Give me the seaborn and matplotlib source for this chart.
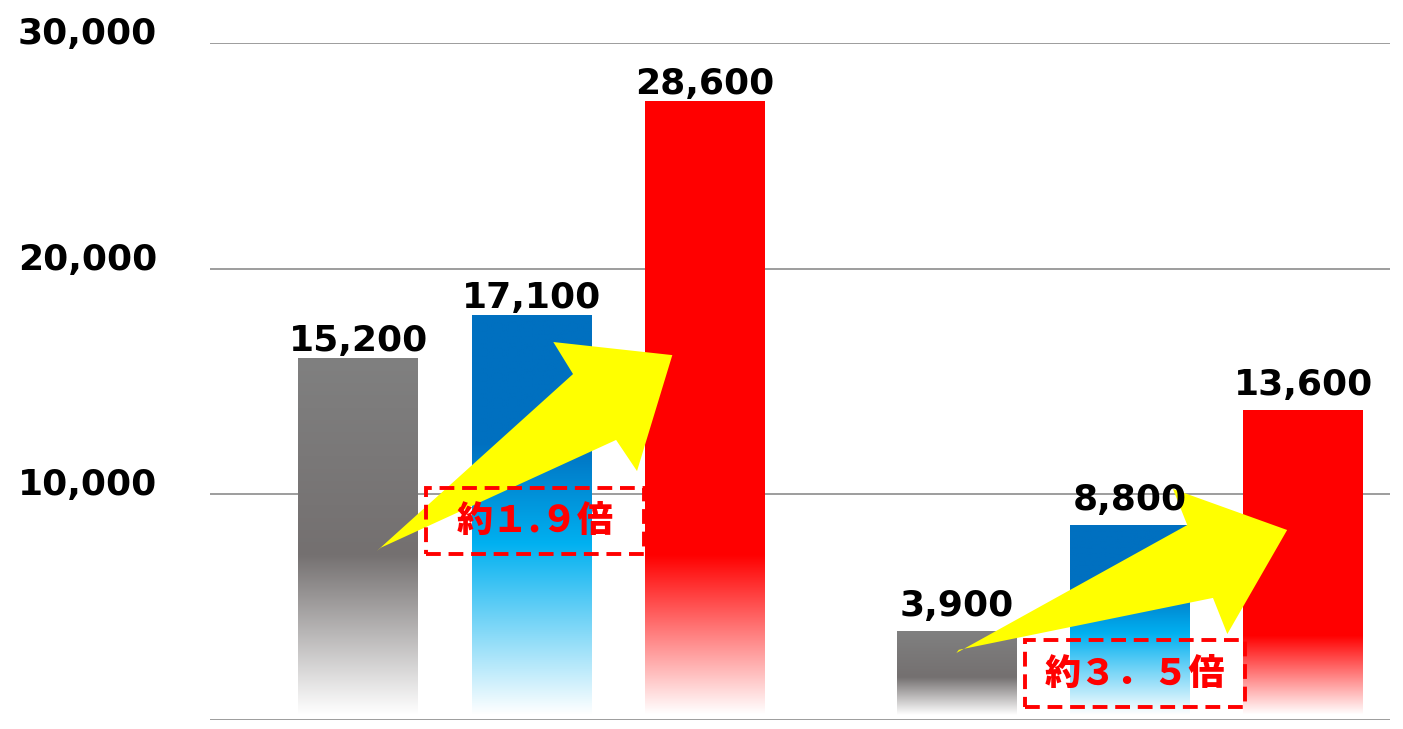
import numpy as np
import pandas as pd
import matplotlib
matplotlib.use("Agg")
import matplotlib.pyplot as plt
import matplotlib.transforms as mtransforms
from matplotlib.colors import LinearSegmentedColormap
from matplotlib.patches import Polygon, Rectangle
import seaborn as sns

# ---------------- data ----------------
categories = ["グループ1", "グループ2"]
series = ["系列1", "系列2", "系列3"]
gray_values = [16000, 3900]
blue_values = [17900, 8600]
red_values = [27400, 13700]
gray_labels = ["15,200", "3,900"]
blue_labels = ["17,100", "8,800"]
red_labels = ["28,600", "13,600"]
ytick_values = [0, 10000, 20000, 30000]
ytick_labels = ["", "10,000", "20,000", "30,000"]
ratio_texts = ["約１.９倍", "約３．５倍"]

# ---------------- styling ----------------
sns.set_theme(style="white")
plt.rcParams["font.family"] = ["DejaVu Sans", "Noto Sans CJK JP"]

W, H, DPI = 1403, 729, 100
fig = plt.figure(figsize=(W / DPI, H / DPI), dpi=DPI)
ax = fig.add_axes([210 / W, 9 / H, 1180 / W, 677 / H])

df = pd.DataFrame({
    "category": categories * 3,
    "series": [series[0]] * 2 + [series[1]] * 2 + [series[2]] * 2,
    "value": gray_values + blue_values + red_values,
})
base_colors = ["#808080", "#0070C0", "#FF0000"]
sns.barplot(data=df, x="category", y="value", hue="series", order=categories,
            hue_order=series, palette=base_colors, width=0.87, gap=0.31,
            legend=False, ax=ax, errorbar=None, saturation=1)

# gradients (top -> bottom)
grad_stops = [
    [(0.0, "#808080"), (0.55, "#747070"), (1.0, "#FFFFFF")],
    [(0.0, "#0070C0"), (0.32, "#0070C0"), (0.57, "#00B0F0"), (1.0, "#FFFFFF")],
    [(0.0, "#FF0000"), (0.74, "#FF0000"), (1.0, "#FFFFFF")],
]
all_labels = [gray_labels, blue_labels, red_labels]
label_gap_px = [8, 16]
for si, cont in enumerate(ax.containers):
    cmap = LinearSegmentedColormap.from_list(f"g{si}", grad_stops[si])
    grad = cmap(np.linspace(0, 1, 256))[:, None, :]
    for ci, bar in enumerate(cont):
        x0, y0 = bar.get_x(), bar.get_y()
        w, h = bar.get_width(), bar.get_height()
        ax.imshow(grad, extent=[x0, x0 + w, y0 + 200, y0 + h], origin="upper",
                  aspect="auto", zorder=2, interpolation="bilinear")
        bar.set_visible(False)
        ax.annotate(all_labels[si][ci], (x0 + w / 2, y0 + h),
                    xytext=(0, label_gap_px[ci] * 72 / DPI), textcoords="offset points",
                    ha="center", va="baseline", fontsize=26, fontweight="bold",
                    color="black", zorder=5)

# yellow arrows (annotation shapes)
arrows = [
    [(-0.259, 7490), (0.069, 15330), (0.036, 16750), (0.235, 16170),
     (0.176, 11030), (0.141, 12410), (-0.252, 7640)],
    [(0.710, 2970), (1.096, 8640), (1.072, 10240), (1.263, 8420),
     (1.163, 3810), (1.139, 5410), (0.714, 3110)],
]
for pts in arrows:
    ax.add_patch(Polygon(pts, closed=True, facecolor="#FFFF00", edgecolor="none", zorder=3))

boxes = [(-0.177, 7356, 0.188, 10280), (0.825, 576, 1.193, 3545)]
for (bx0, by0, bx1, by1), txt in zip(boxes, ratio_texts):
    ax.add_patch(Rectangle((bx0, by0), bx1 - bx0, by1 - by0, fill=False,
                           edgecolor="#FF0000", lw=2.8, linestyle=(0, (3.8, 2.0)), zorder=4))
    ax.text((bx0 + bx1) / 2, (by0 + by1) / 2, txt, ha="center", va="center",
            fontsize=26, fontweight="black", color="#FF0000",
            family=["Noto Sans CJK JP", "DejaVu Sans"], zorder=5)

ax.set_xlim(-0.538, 1.435)
ax.set_ylim(0, 30000)
ax.set_yticks(ytick_values)
ax.set_yticklabels(ytick_labels, fontsize=26, fontweight="bold", color="black")
ax.tick_params(axis="y", length=0, pad=38)
ax.set_xticks([])
ax.set_xlabel("")
ax.set_ylabel("")
ax.yaxis.grid(True, color="#8C8C8C", lw=1.2)
ax.set_axisbelow(True)
for s in ax.spines.values():
    s.set_visible(False)
off = mtransforms.ScaledTranslation(0, 9 / 72, fig.dpi_scale_trans)
for lab in ax.get_yticklabels():
    lab.set_transform(lab.get_transform() + off)

fig.savefig("out.png", dpi=DPI, facecolor="white")
